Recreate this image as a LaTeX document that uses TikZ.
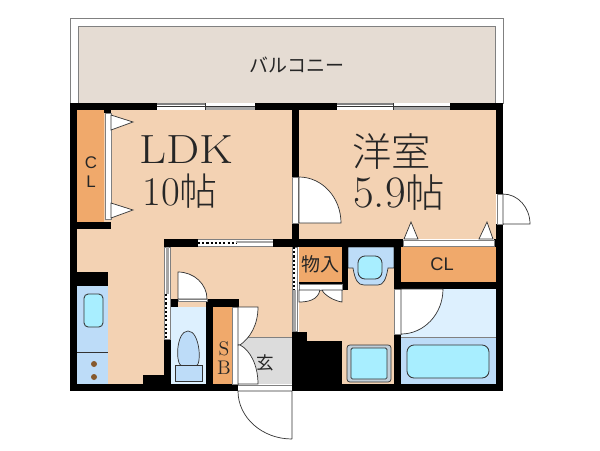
\documentclass[tikz,border=0pt]{standalone}
\usepackage{fontspec}
\usepackage{xcolor}
\newfontfamily\cjk{Noto Sans CJK JP}
\newfontfamily\cjklight[UprightFont=* Light]{Noto Sans CJK JP}
\newfontfamily\labelsf{Liberation Sans}
\definecolor{roomc}{HTML}{F3D2B3}
\definecolor{storec}{HTML}{F0A96B}
\definecolor{balcc}{HTML}{E5DCD3}
\definecolor{wetc}{HTML}{BDDCF8}
\definecolor{palec}{HTML}{DDF0FE}
\definecolor{tubc}{HTML}{A8EEFF}
\definecolor{entryc}{HTML}{DCDCDC}
\definecolor{linec}{HTML}{333333}
\tikzset{
    wall/.style={fill=black},
    room/.style={fill=roomc},
    store/.style={fill=storec},
    wet/.style={fill=wetc},
    pale/.style={fill=palec},
    tub/.style={fill=tubc, draw=linec, line width=0.6pt, rounded corners=3pt},
    leaf/.style={fill=white, draw=linec, line width=0.5pt},
    gap/.style={fill=white, draw=gray, line width=0.3pt},
    label/.style={inner sep=0pt, text=black!85}
}
\begin{document}
\begin{tikzpicture}[x=0.025cm, y=-0.025cm]
    \useasboundingbox (0,0) rectangle (600,450);
    \fill[white] (0,0) rectangle (600,450);

    % Balcony
    \draw[gray, fill=white, line width=0.4pt] (70,18) rectangle (503,103);
    \fill[balcc] (78,26) rectangle (495,103);
    \draw[gray, line width=0.4pt] (78,26) -- (495,26) (78,26) -- (78,103) (495,26) -- (495,103);

    % Rooms
    \fill[room] (77,110) rectangle (292,384);
    \fill[room] (299,110) rectangle (496,239);
    \fill[room] (299,247) rectangle (394,384);

    % Storage
    \fill[store] (77,110) rectangle (104,222);
    \fill[store] (213,307) rectangle (232,384);
    \fill[store] (299,247) rectangle (342,282);
    \fill[store] (401,247) rectangle (496,282);

    % Kitchen
    \fill[wet] (77,286) rectangle (108,384);
    \draw[linec, line width=0.5pt] (77,352) -- (108,352);
    \draw[tub] (84,294) rectangle (103,327);
    \fill[brown!70!black] (94,364) circle (3);
    \fill[brown!70!black] (94,377) circle (3);

    % Toilet
    \fill[pale] (171,307) rectangle (206,384);
    \draw[wet, draw=linec, line width=0.5pt] (188,331) .. controls (176,331) and (175,365) .. (182,366) -- (196,366) .. controls (202,365) and (200,331) .. (188,331) -- cycle;
    \draw[wet, draw=linec, line width=0.5pt] (175,365) rectangle (202,381);

    % Entrance
    \fill[entryc] (240,337) rectangle (292,384);
    \draw[gray, line width=0.4pt] (240,337) -- (292,337);

    % Bath
    \fill[pale] (401,289) rectangle (496,337);
    \fill[wet] (401,337) rectangle (496,384);
    \draw[gray, line width=0.4pt] (401,337) -- (496,337);
    \draw[tub, rounded corners=5pt] (407,345) rectangle (489,378);

    % Washstand and washer
    \draw[wet, draw=linec, line width=0.5pt] (348,247) -- (394,247) -- (394,268) -- (388,268) .. controls (386,280) and (383,285) .. (378,285) -- (364,285) .. controls (358,285) and (355,280) .. (353,268) -- (348,268) -- cycle;
    \draw[tub, rounded corners=5pt] (358,256) rectangle (382,279);
    \draw[fill=palec!70!gray, draw=linec, line width=0.5pt, rounded corners=2pt] (347,345) rectangle (391,382);
    \draw[tub, rounded corners=1pt] (351,348) rectangle (387,379);

    % Walls
    \fill[wall] (70,103) rectangle (157,110);
    \fill[wall] (255,103) rectangle (337,110);
    \fill[wall] (450,103) rectangle (503,110);
    \fill[wall] (70,103) rectangle (77,391);
    \fill[wall] (496,103) rectangle (503,194);
    \fill[wall] (496,224) rectangle (503,391);
    \fill[wall] (70,384) rectangle (238,391);
    \fill[wall] (292,384) rectangle (503,391);
    \fill[wall] (292,103) rectangle (299,177);
    \fill[wall] (292,223) rectangle (299,247);
    \fill[wall] (104,110) rectangle (111,113);
    \fill[wall] (70,222) rectangle (111,229);
    \fill[wall] (77,272) rectangle (108,286);
    \fill[wall] (143,375) rectangle (164,384);
    \fill[wall] (164,239) rectangle (198,247);
    \fill[wall] (273,239) rectangle (292,247);
    \fill[wall] (164,339) rectangle (171,384);
    \fill[wall] (171,299) rectangle (178,307);
    \fill[wall] (207,299) rectangle (239,307);
    \fill[wall] (206,299) rectangle (213,384);
    \fill[wall] (292,239) rectangle (403,247);
    \fill[wall] (494,239) rectangle (503,247);
    \fill[wall] (403,246) rectangle (494,247);
    \fill[wall] (342,247) rectangle (348,290);
    \fill[wall] (299,282) rectangle (348,284);
    \fill[wall] (394,239) rectangle (401,289);
    \fill[wall] (394,282) rectangle (496,289);
    \fill[wall] (394,334) rectangle (401,384);
    \fill[wall] (292,341) rectangle (342,391);
    \fill[wall] (292,332) rectangle (307,341);

    % Windows
    \fill[white] (157,103) rectangle (255,110);
    \draw[gray, line width=0.8pt] (157,104) -- (205,104) (205,109) -- (255,109);
    \fill[gray!70] (205,107) rectangle (255,110);
    \draw[linec, line width=0.4pt] (157,106) -- (255,106) (205,103) -- (205,110);
    \fill[white] (337,103) rectangle (450,110);
    \draw[gray, line width=0.8pt] (337,104) -- (393,104);
    \fill[gray!70] (393,107) rectangle (450,110);
    \draw[linec, line width=0.4pt] (337,106) -- (450,106) (393,103) -- (393,110);
    \fill[white] (198,239) rectangle (273,247);
    \draw[gray, line width=0.6pt] (198,239.5) -- (273,239.5) (198,246.5) -- (273,246.5);
    \draw[black, line width=1.2pt, dash pattern=on 1.5pt off 1.5pt] (198,243) -- (236,243);
    \fill[gray!70] (236,241) rectangle (273,243);

    % Sliding doors beside the hall
    \draw[gap] (164,247) rectangle (170,339);
    \fill[gray!70] (166,247) rectangle (169,294);
    \draw[black, line width=1.2pt, dash pattern=on 1.5pt off 1.5pt] (166,294) -- (166,339);
    \draw[gap] (292,247) rectangle (297,331);
    \fill[gray!70] (293,290) rectangle (296,331);
    \draw[black, line width=1pt, dash pattern=on 1.5pt off 1.5pt] (294,247) -- (294,290);

    % Closet strips
    \draw[gap] (105,113) rectangle (111,219);
    \draw[gap] (232,307) rectangle (238,384);
    \draw[gap] (403,240) rectangle (494,246);
    \draw[gap] (299,284) rectangle (342,290);

    % Door leaves
    \draw[leaf] (111,115) -- (133,122) -- (111,130) -- cycle;
    \draw[leaf] (111,203) -- (133,210) -- (111,218) -- cycle;
    \draw[leaf] (404,239) -- (411,222) -- (418,239) -- cycle;
    \draw[leaf] (479,239) -- (487,222) -- (493,239) -- cycle;
    \draw[gap] (292,177) rectangle (298,223);
    \draw[leaf] (299,223) -- (299,177) arc[start angle=90, end angle=0, x radius=42, y radius=-46] -- cycle;
    \draw[gap] (497,194) rectangle (503,224);
    \draw[leaf] (503,224) -- (503,194) arc[start angle=90, end angle=0, x radius=27, y radius=-30] -- cycle;
    \draw[leaf] (178,299) -- (178,272) arc[start angle=90, end angle=0, x radius=29, y radius=-27] -- cycle;
    \draw[gap] (178,299) rectangle (207,301);
    \draw[leaf] (238,307) -- (258,307) .. controls (258,325) and (250,338) .. (240,345) -- (238,345) -- cycle;
    \draw[leaf] (238,345) -- (240,345) .. controls (250,350) and (258,365) .. (258,384) -- (238,384) -- cycle;
    \draw[leaf] (299,290) -- (299,302) .. controls (308,302) and (318,300) .. (320,290) -- cycle;
    \draw[leaf] (342,290) -- (342,302) .. controls (335,301) and (325,296) .. (322,290) -- cycle;
    \draw[gap] (394,289) rectangle (401,334);
    \draw[leaf] (401,334) -- (401,289) -- (443,289) arc[start angle=0, end angle=90, x radius=42, y radius=45] -- cycle;
    \draw[gray, line width=0.4pt] (238,385) -- (292,385);
    \draw[gray, line width=0.4pt] (238,391) -- (292,391);
    \draw[leaf] (292,439) -- (292,391) -- (238,391) arc[start angle=180, end angle=270, x radius=54, y radius=-48];

    % Labels
    \node[label] (balcony) at (297,65) {\cjk\fontsize{13.5}{14}\selectfont バルコニー};
    \node[label, anchor=west, xscale=1.15, transform shape] (ldk) at (139,150) {\fontsize{29}{29}\selectfont LDK};
    \node[label, anchor=west] (ldksize) at (142,191) {\fontsize{29}{29}\selectfont 10{\cjklight\fontsize{27}{27}\selectfont 帖}};
    \node[label, anchor=west] (western) at (352,151) {\cjklight\fontsize{28}{28}\selectfont 洋室};
    \node[label, anchor=west] (westernsize) at (353,193) {\fontsize{32}{32}\selectfont 5.9{\cjklight\fontsize{28}{28}\selectfont 帖}};
    \node[label, align=center, font=\labelsf\fontsize{12}{14}\selectfont] (cl1) at (91,172) {C\\L};
    \node[label] (cl2) at (442,264) {\labelsf\fontsize{13}{14}\selectfont CL};
    \node[label] (storage) at (320,264) {\cjk\fontsize{13.5}{14}\selectfont 物入};
    \node[label, align=center, font=\fontsize{14}{13}\selectfont] (sb) at (224,358) {S\\B};
    \node[label] (entry) at (265,363) {\cjk\fontsize{12.5}{13}\selectfont 玄};
\end{tikzpicture}
\end{document}
